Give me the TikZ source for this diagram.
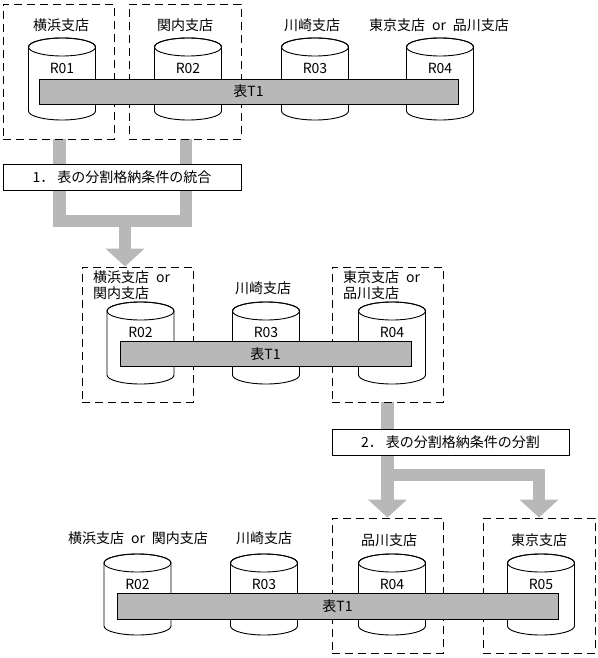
\documentclass[tikz,border=0pt]{standalone}
\usepackage{fontspec}
\setmainfont{Noto Sans CJK JP}
\usepackage{tikz}
\usetikzlibrary{arrows.meta,backgrounds}
\definecolor{bargray}{HTML}{B8B8B8}
\tikzset{
  branch/.style={draw, line width=0.9pt, dash pattern=on 8pt off 5pt,
    minimum width=111pt, minimum height=135pt},
  stepbox/.style={draw, fill=white, line width=0.9pt, minimum width=237pt,
    minimum height=26pt},
  tbl/.style={draw, fill=bargray, line width=0.9pt},
  cyl/.style={draw, fill=white, line width=0.9pt},
  flowline/.style={draw=bargray, line width=12.5pt},
  flow/.style={flowline, -{Triangle[width=38pt,length=18pt]}},
  lbl/.style={inner sep=0pt}
}
\newcommand{\orsep}{\hspace{0.5em}or\hspace{0.5em}}
% cylinder: centre x, top y, bottom y, node name, label
\newcommand{\dbcyl}[5]{%
  \path[cyl] ({#1-33.5},{-#2-9}) -- ({#1-33.5},{-#3+9})
    arc[start angle=180, end angle=360, x radius=33.5, y radius=9]
    -- ({#1+33.5},{-#2-9})
    arc[start angle=0, end angle=180, x radius=33.5, y radius=9] -- cycle;
  \draw[line width=0.9pt] (#1,{-#2-9}) ellipse[x radius=33.5, y radius=9];
  \node[lbl] (#4) at (#1,{-#2-30}) {#5};
}

\begin{document}
\begin{tikzpicture}[x=1pt, y=1pt, font=\fontsize{14}{16}\selectfont]
\useasboundingbox (0,0) rectangle (597,-658);

% before merge
\node[branch] (yokohama) at (58.5,-71.5) {};
\node[branch, minimum width=112pt] (kannai) at (185,-71.5) {};
\node[lbl] (yokohamaL) at (61,-25) {横浜支店};
\node[lbl] (kannaiL) at (185,-25) {関内支店};
\node[lbl] (kawasakiL) at (312,-25) {川崎支店};
\node[lbl] (tokyoL) at (439,-25) {東京支店\orsep 品川支店};
\dbcyl{62}{38}{120}{r01}{R01}
\dbcyl{188}{38}{120}{r02}{R02}
\dbcyl{315}{38}{120}{r03}{R03}
\dbcyl{440}{38}{120}{r04}{R04}
\node[tbl, minimum width=419pt, minimum height=25pt] (t1a) at (248.5,-91.5) {表T1};

\node[stepbox, minimum width=238pt] (step1) at (122,-177) {1．\ 表の分割格納条件の統合};

% after merge
\node[branch] (mergeA) at (137.5,-334.5) {};
\node[branch] (mergeB) at (387.5,-334.5) {};
\node[lbl, anchor=north west, align=left] (mergeAL) at (93,-271) {横浜支店\orsep\\関内支店};
\node[lbl] (kawasakiM) at (263,-288) {川崎支店};
\node[lbl, anchor=north west, align=left] (mergeBL) at (343,-271) {東京支店\orsep\\品川支店};
\dbcyl{140.5}{302}{384}{m02}{R02}
\dbcyl{266}{302}{384}{m03}{R03}
\dbcyl{392}{302}{384}{m04}{R04}
\node[tbl, minimum width=291pt, minimum height=25pt] (t1b) at (265.5,-354) {表T1};

\node[stepbox] (step2) at (450.5,-442) {2．\ 表の分割格納条件の分割};

% after split
\node[branch] (shina) at (387.5,-585.5) {};
\node[branch, minimum width=112pt] (tokyo) at (539,-585.5) {};
\node[lbl] (mergeL) at (138,-538) {横浜支店\orsep 関内支店};
\node[lbl] (kawasakiB) at (264,-538) {川崎支店};
\node[lbl] (shinaL) at (389,-540) {品川支店};
\node[lbl] (tokyoB) at (539,-540) {東京支店};
\dbcyl{137.5}{554}{635}{b02}{R02}
\dbcyl{264}{554}{635}{b03}{R03}
\dbcyl{392}{554}{635}{b04}{R04}
\dbcyl{541}{554}{635}{b05}{R05}
\node[tbl, minimum width=441pt, minimum height=26pt] (t1c) at (337.5,-606) {表T1};

\coordinate (join1) at (125,-221);
\coordinate (split2) at (387.5,-475);
\begin{scope}[on background layer]
\draw[flowline] ([xshift=1pt]yokohama.south) |- (join1) -| ([xshift=1pt]kannai.south);
\draw[flow] (join1) -- (join1 |- mergeA.north);
\draw[flow] (mergeB.south) -- (shina.north);
\draw[flow] (split2) -| (tokyo.north);
\end{scope}
\end{tikzpicture}
\end{document}
